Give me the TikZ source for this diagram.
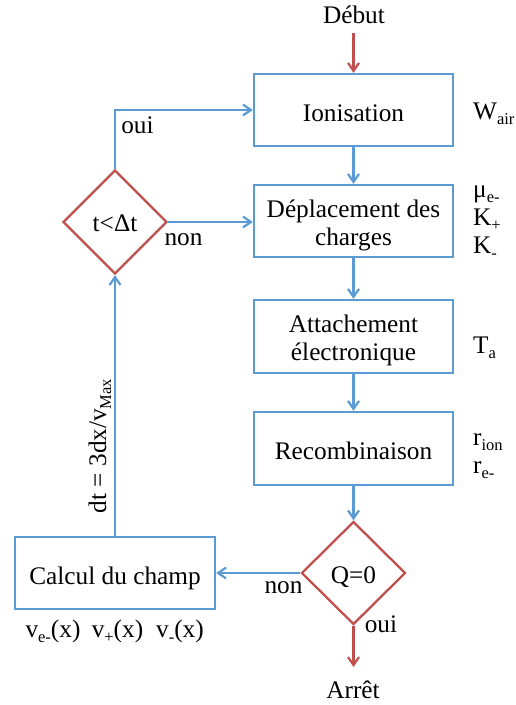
\documentclass[tikz,border=0pt]{standalone}
\usepackage{fontspec}
\setmainfont{Liberation Serif}
\usetikzlibrary{arrows.meta,shapes.geometric}
\definecolor{bl}{RGB}{91,155,213}
\definecolor{rd}{RGB}{192,80,77}
\newcommand{\sbs}[1]{\raisebox{-5pt}{\fontsize{16.5}{16.5}\selectfont #1}}
\begin{document}
\begin{tikzpicture}[x=1pt,y=-1pt,
  box/.style={draw=bl,line width=2.3pt,minimum width=199pt,minimum height=72pt,inner sep=0pt},
  dia/.style={draw=rd,line width=2.3pt,diamond,aspect=1,minimum width=104pt,minimum height=104pt,inner sep=0pt},
  txt/.style={anchor=base,inner sep=0pt,font=\fontsize{25.3}{28}\selectfont},
  side/.style={anchor=base west,inner sep=0pt,font=\fontsize{25.3}{28}\selectfont},
  barrow/.style={draw=bl,line width=2.2pt,-{Straight Barb[length=8pt,width=11pt]}},
  rarrow/.style={draw=rd,line width=2.2pt,-{Straight Barb[length=8pt,width=11pt]}}]
\path[use as bounding box] (0,0) rectangle (515,705);
% boxes
\node[box] (ion) at (353.5,110) {};
\node[box] (dep) at (353.5,221) {};
\node[box,minimum height=73pt] (att) at (353.5,336.5) {};
\node[box,minimum height=73pt] (rec) at (353.5,448.5) {};
\node[box,minimum width=200pt] (calc) at (115,573) {};
\node[dia,minimum height=103pt] (q) at (353.5,573) {};
\node[dia] (t) at (115,222) {};
% texts
\node[txt] (tdeb) at (354,23) {Début};
\node[txt] (tion) at (353.5,121) {Ionisation};
\node[txt] (tdep1) at (353.5,217) {Déplacement des};
\node[txt] (tdep2) at (353.5,245) {charges};
\node[txt] (tatt1) at (353.5,332.5) {Attachement};
\node[txt] (tatt2) at (353.5,360.5) {électronique};
\node[txt] (trec) at (353.5,459.5) {Recombinaison};
\node[txt] (tq) at (353.5,583) {Q=0};
\node[txt] (tt) at (115,231) {t<Δt};
\node[txt] (tcalc) at (115,584) {Calcul du champ};
\node[txt] (tarr) at (353,698) {Arrêt};
% side labels
\node[side] (lw) at (473,119) {W\sbs{air}};
\node[side] (lmu) at (473,197) {μ\sbs{e-}};
\node[side] (lkp) at (473,225) {K\sbs{+}};
\node[side] (lkm) at (473,253) {K\sbs{-}};
\node[side] (lta) at (473,353) {T\sbs{a}};
\node[side] (lri) at (473,445) {r\sbs{ion}};
\node[side] (lre) at (473,473) {r\sbs{e-}};
\node[txt] (lv1) at (53,637) {v\sbs{e-}(x)};
\node[txt] (lv2) at (117.5,637) {v\sbs{+}(x)};
\node[txt] (lv3) at (180,637) {v\sbs{-}(x)};
\node[txt] (oui1) at (137.5,133) {oui};
\node[txt] (non1) at (183.5,245) {non};
\node[txt] (oui2) at (381,632) {oui};
\node[txt] (non2) at (283.5,593) {non};
\node[txt,rotate=90] (tdt) at (106,446) {dt = 3dx/v\sbs{Max}};
% connectors
\coordinate (dstart) at (353.5,33);
\coordinate (aend) at (353.5,667);
\draw[rarrow] (dstart) -- (ion.north);
\draw[barrow] (ion.south) -- (dep.north);
\draw[barrow] (dep.south) -- (att.north);
\draw[barrow] (att.south) -- (rec.north);
\draw[barrow] (rec.south) -- (q.north);
\draw[rarrow] (q.south) -- (aend);
\draw[barrow] (q.west) -- (calc.east);
\draw[barrow] (calc.north) -- (t.south);
\draw[barrow] (t.north) |- (ion.west);
\draw[barrow] (t.east) -- (t.east -| dep.west);
\end{tikzpicture}
\end{document}
